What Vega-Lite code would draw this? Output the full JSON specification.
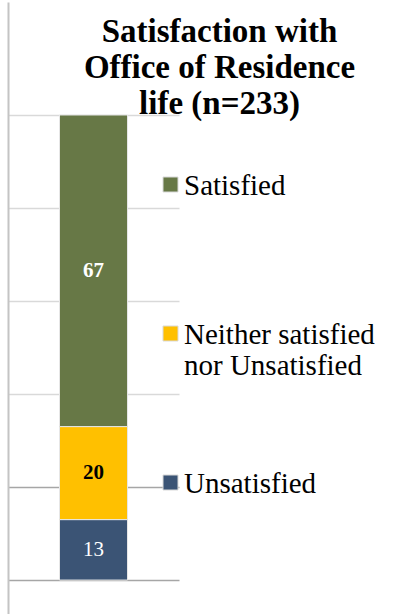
{
  "$schema": "https://vega.github.io/schema/vega-lite/v6.json",
  "width": 171,
  "height": 612,
  "autosize": {"type": "none"},
  "padding": {"left": 8, "top": 2, "right": 222, "bottom": 0},
  "background": "white",
  "config": {"view": {"stroke": null}},
  "title": {
    "text": ["Satisfaction with", "Office of Residence", "life (n=233)"],
    "font": "Liberation Serif",
    "fontSize": 33,
    "fontWeight": "bold",
    "lineHeight": 36,
    "color": "black",
    "anchor": "middle",
    "frame": "group",
    "dx": 126,
    "offset": -119
  },
  "data": {
    "values": [
      {"group": "Office of Residence life", "category": "Unsatisfied", "value": 13},
      {"group": "Office of Residence life", "category": "Neither satisfied nor Unsatisfied", "value": 20},
      {"group": "Office of Residence life", "category": "Satisfied", "value": 67}
    ]
  },
  "encoding": {
    "x": {"field": "group", "type": "nominal", "axis": null},
    "y": {
      "field": "value",
      "type": "quantitative",
      "stack": "zero",
      "scale": {"domain": [-7.3, 124.3], "nice": false, "zero": false},
      "axis": {
        "values": [0, 20, 40, 60, 80, 100],
        "labels": false,
        "ticks": false,
        "title": null,
        "domain": true,
        "domainColor": "#c4c4c4",
        "domainWidth": 2,
        "grid": true,
        "gridColor": {"condition": {"test": "datum.value <= 20", "value": "#a6a6a6"}, "value": "#d9d9d9"},
        "gridWidth": 1.5
      }
    },
    "order": {"field": "value", "type": "quantitative"}
  },
  "layer": [
    {
      "mark": {"type": "bar", "size": 68, "stroke": "#e6e6e6", "strokeWidth": 1},
      "encoding": {
        "color": {
          "field": "category",
          "type": "nominal",
          "scale": {
            "domain": ["Satisfied", "Neither satisfied nor Unsatisfied", "Unsatisfied"],
            "range": ["#677846", "#FFC000", "#3B5475"]
          },
          "legend": {
            "orient": "none",
            "legendX": 148,
            "legendY": 168,
            "title": null,
            "padding": 0,
            "symbolType": "square",
            "symbolSize": 225,
            "symbolStrokeColor": "#d9d9d9",
            "symbolStrokeWidth": 1,
            "labelFont": "Liberation Serif",
            "labelFontSize": 29,
            "labelColor": "black",
            "labelOffset": -1,
            "labelLimit": 300,
            "rowPadding": 87,
            "gridAlign": "all",
            "labelBaseline": "alphabetic",
            "labelLineHeight": 37,
            "labelExpr": "datum.label == 'Neither satisfied nor Unsatisfied' ? ['Neither satisfied', 'nor Unsatisfied'] : datum.label",
            "encode": {"labels": {"update": {"dy": {"value": 10}}}}
          }
        }
      }
    },
    {
      "mark": {"type": "text", "font": "Liberation Serif", "fontSize": 21, "fontWeight": "bold", "baseline": "middle"},
      "encoding": {
        "y": {"field": "value", "type": "quantitative", "stack": "zero", "bandPosition": 0.5},
        "detail": {"field": "category"},
        "text": {"condition": {"test": "datum.category != 'Unsatisfied'", "field": "value", "type": "quantitative"}, "value": ""},
        "color": {"condition": {"test": "datum.category == 'Neither satisfied nor Unsatisfied'", "value": "black"}, "value": "white"}
      }
    },
    {
      "mark": {"type": "text", "font": "Liberation Serif", "fontSize": 21, "baseline": "middle", "color": "white"},
      "encoding": {
        "y": {"field": "value", "type": "quantitative", "stack": "zero", "bandPosition": 0.5},
        "detail": {"field": "category"},
        "text": {"condition": {"test": "datum.category == 'Unsatisfied'", "field": "value", "type": "quantitative"}, "value": ""}
      }
    }
  ]
}
